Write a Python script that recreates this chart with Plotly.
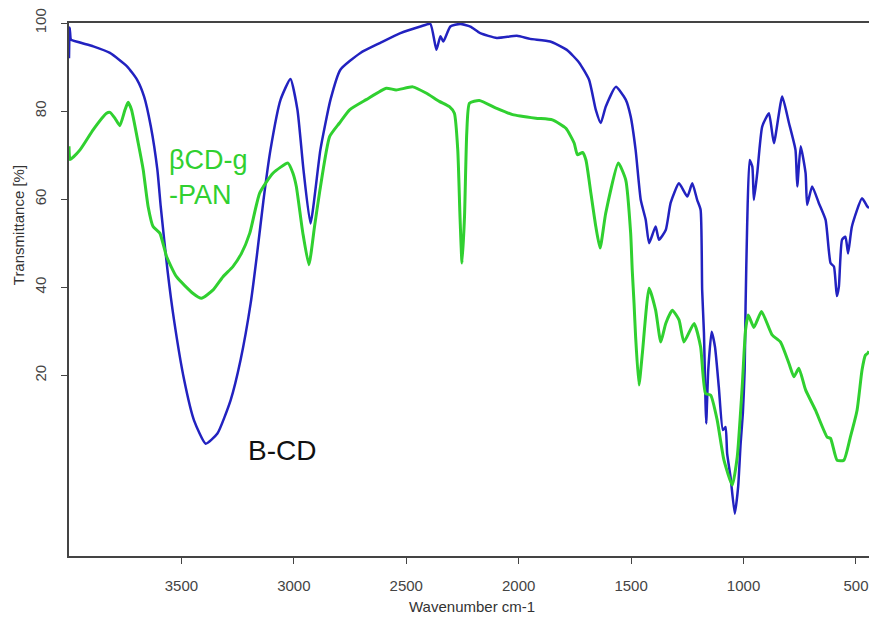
import plotly.graph_objects as go

# B-CD (blue) spectrum
bcd_wn = [4000, 3997, 3993, 3991, 3892, 3818, 3741, 3697, 3666, 3636, 3607, 3592, 3562, 3533,
          3488, 3444, 3392, 3340, 3281, 3237, 3192, 3163, 3135, 3104, 3059, 3015, 2984, 2957,
          2926, 2882, 2837, 2793, 2704, 2615, 2526, 2437, 2393, 2366, 2348, 2335, 2304, 2260,
          2215, 2171, 2097, 2008, 1949, 1860, 1786, 1731, 1687, 1657, 1635, 1613, 1568, 1524,
          1502, 1480, 1457, 1435, 1420, 1391, 1376, 1346, 1324, 1287, 1250, 1228, 1206, 1191,
          1184, 1176, 1169, 1166, 1157, 1142, 1127, 1110, 1092, 1080, 1073, 1058, 1039, 1024,
          1013, 1003, 995, 991, 984, 973, 961, 954, 939, 917, 887, 865, 828, 798, 769, 761,
          746, 724, 717, 695, 665, 635, 613, 598, 585, 576, 562, 547, 535, 518, 473, 449, 442]
bcd_t = [92, 99, 96.5, 96.2, 94.7, 93.2, 90.1, 87.1, 83.3, 76.5, 66.7, 58.3, 43.9, 32.6,
         19.0, 9.8, 4.5, 6.8, 14.4, 23.5, 36.4, 47.8, 59.8, 71.2, 82.6, 87.3, 80.3, 66.6,
         54.5, 71.2, 82.6, 89.4, 93.2, 95.5, 97.7, 99.2, 99.8, 93.9, 97.0, 95.8, 99.2, 99.8,
         99.2, 97.7, 96.6, 97.1, 96.4, 95.8, 93.9, 91.0, 87.1, 80.3, 77.3, 81.0, 85.5, 82.6,
         78.8, 71.2, 59.8, 55.3, 50.0, 53.8, 50.8, 53.0, 59.2, 63.6, 60.6, 63.6, 59.8, 57.6,
         39.4, 29.6, 13.6, 9.1, 21.2, 29.9, 26.5, 17.4, 7.6, 8.3, 2.3, -3.0, -11.4, -5.3,
         4.5, 11.4, 21.2, 35.6, 53.8, 68.9, 67.4, 59.8, 65.9, 76.5, 79.5, 72.7, 83.3, 77.3, 71.2, 62.9,
         72.0, 65.9, 58.7, 62.9, 59.1, 55.3, 45.5, 44.7, 38.0, 40.1, 50.8, 51.5, 47.7, 53.8, 60.2, 58.3, 58.0]

# βCD-g-PAN (green) spectrum
pan_wn = [4000, 3995, 3951, 3892, 3833, 3818, 3796, 3774, 3751, 3737, 3722, 3692, 3670, 3648,
          3626, 3596, 3566, 3522, 3448, 3411, 3359, 3315, 3271, 3233, 3196, 3152, 3093, 3026,
          3004, 2989, 2960, 2933, 2908, 2886, 2841, 2797, 2752, 2678, 2589, 2545, 2471, 2412,
          2353, 2308, 2286, 2271, 2261, 2252, 2241, 2231, 2219, 2175, 2101, 2027, 1924, 1850,
          1790, 1753, 1739, 1716, 1701, 1679, 1657, 1638, 1613, 1557, 1524, 1502, 1495, 1487,
          1480, 1465, 1450, 1420, 1391, 1368, 1346, 1317, 1287, 1265, 1220, 1191, 1169, 1146,
          1117, 1087, 1050, 1028, 1006, 991, 979, 954, 920, 873, 836, 798, 776, 754, 724, 680,
          628, 613, 584, 554, 525, 495, 473, 458, 448, 442]
pan_t = [72, 69, 71.2, 75.8, 79.5, 79.7, 78.4, 76.7, 80.3, 82.0, 80.3, 72.7, 66.7, 58.3,
         53.8, 52.3, 47.0, 42.4, 38.6, 37.5, 39.4, 42.4, 44.7, 47.7, 52.3, 61.4, 65.9, 68.2,
         65.9, 62.9, 52.3, 45.1, 53.8, 61.4, 74.2, 77.3, 80.3, 82.6, 85.2, 84.8, 85.5, 84.1,
         82.2, 81.0, 79.5, 71.2, 56.0, 45.5, 56.0, 75.0, 81.8, 82.4, 80.7, 79.2, 78.4, 78.0,
         76.1, 72.7, 70.1, 70.6, 68.9, 61.4, 53.8, 48.9, 56.8, 68.2, 64.4, 52.3, 43.9, 36.4,
         28.8, 17.8, 25.0, 39.8, 34.8, 27.6, 31.8, 34.8, 32.6, 27.6, 31.8, 26.5, 15.9, 15.5,
         9.8, 0.75, -4.9, 1.5, 17.4, 30.3, 33.7, 30.9, 34.5, 29.2, 27.6, 22.7, 19.7, 21.6, 16.7, 12.1,
         6.0, 5.7, 0.75, 0.75, 6.0, 12.1, 21.2, 24.6, 25.0, 25.5]

x_ticks = [3500, 3000, 2500, 2000, 1500, 1000, 500]
y_ticks = [20, 40, 60, 80, 100]

BLUE = "#2222c0"
GREEN = "#30d030"
FONT = "Liberation Sans, Arial, sans-serif"

fig = go.Figure()
fig.add_trace(go.Scatter(x=bcd_wn, y=bcd_t, mode="lines",
                         line=dict(color=BLUE, width=2.5, shape="spline", smoothing=0.5),
                         name="B-CD"))
fig.add_trace(go.Scatter(x=pan_wn, y=pan_t, mode="lines",
                         line=dict(color=GREEN, width=3, shape="spline", smoothing=0.5),
                         name="βCD-g-PAN"))

axis_common = dict(showgrid=False, zeroline=False, showline=True, linecolor="#444",
                   linewidth=1.5, ticks="outside", ticklen=6, tickcolor="#444",
                   tickfont=dict(family=FONT, size=15, color="#444"),
                   ticklabelstandoff=9)

fig.update_layout(
    width=869, height=618,
    margin=dict(l=69, r=0, t=23, b=62),
    plot_bgcolor="white", paper_bgcolor="white",
    showlegend=False,
    xaxis=dict(range=[4000, 442], tickvals=x_ticks, mirror=True, **axis_common),
    yaxis=dict(range=[-21, 100], tickvals=y_ticks, tickangle=-90, **axis_common),
    annotations=[
        dict(text="Wavenumber cm-1", xref="paper", yref="paper", x=0.504, y=-0.094,
             xanchor="center", yanchor="middle", showarrow=False,
             font=dict(family=FONT, size=15, color="#333")),
        dict(text="Transmittance [%]", xref="paper", yref="y", x=-0.063, y=54,
             xanchor="center", yanchor="middle", textangle=-90, showarrow=False,
             font=dict(family=FONT, size=15, color="#333")),
        dict(text="βCD-g<br>-PAN", xref="x", yref="y", x=3565, y=65,
             xanchor="left", yanchor="middle", align="left", showarrow=False,
             font=dict(family=FONT, size=27, color=GREEN)),
        dict(text="B-CD", xref="x", yref="y", x=3215, y=3,
             xanchor="left", yanchor="middle", showarrow=False,
             font=dict(family=FONT, size=28, color="#111")),
    ],
)

fig.write_html("out.html")
